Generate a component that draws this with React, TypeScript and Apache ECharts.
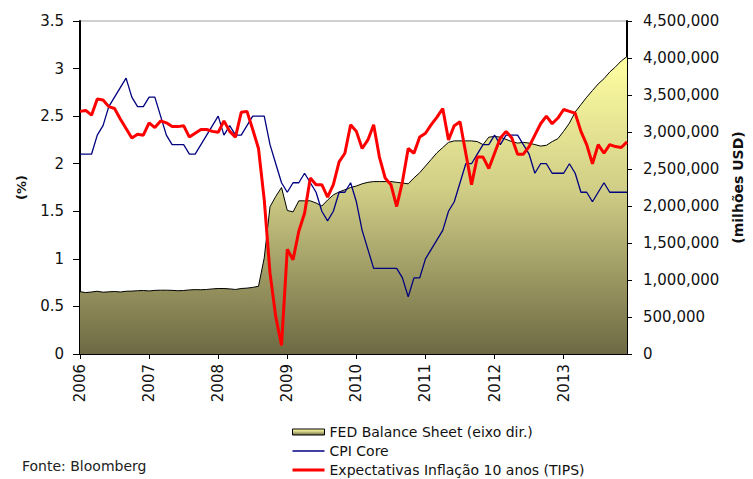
import React, { useEffect, useRef } from 'react';
import * as echarts from 'echarts';

const years = [2006, 2007, 2008, 2009, 2010, 2011, 2012, 2013];
const months = years.flatMap((y) =>
  ['01', '02', '03', '04', '05', '06', '07', '08', '09', '10', '11', '12'].map((m) => `${y}-${m}`)
);

const fedBalance = [
  842000, 830000, 838000, 848000, 835000, 840000, 845000, 838000, 848000, 850000, 855000, 858000,
  852000, 860000, 862000, 862000, 860000, 855000, 858000, 866000, 870000, 868000, 872000, 880000,
  885000, 885000, 880000, 872000, 885000, 890000, 900000, 915000, 1300000, 1990000, 2130000, 2250000,
  1940000, 1920000, 2070000, 2070000, 2070000, 2040000, 2000000, 2080000, 2150000, 2190000, 2220000, 2250000,
  2270000, 2300000, 2320000, 2330000, 2330000, 2330000, 2330000, 2320000, 2310000, 2300000, 2380000, 2450000,
  2540000, 2630000, 2720000, 2790000, 2860000, 2880000, 2880000, 2880000, 2880000, 2870000, 2830000, 2930000,
  2940000, 2930000, 2900000, 2870000, 2850000, 2860000, 2850000, 2830000, 2810000, 2820000, 2870000, 2910000,
  3010000, 3120000, 3270000, 3370000, 3470000, 3560000, 3650000, 3720000, 3810000, 3880000, 3960000, 4020000,
];

const cpiCore = [
  2.1, 2.1, 2.1, 2.3, 2.4, 2.6, 2.7, 2.8, 2.9, 2.7, 2.6, 2.6,
  2.7, 2.7, 2.5, 2.3, 2.2, 2.2, 2.2, 2.1, 2.1, 2.2, 2.3, 2.4,
  2.5, 2.3, 2.4, 2.3, 2.3, 2.4, 2.5, 2.5, 2.5, 2.2, 2.0, 1.8,
  1.7, 1.8, 1.8, 1.9, 1.8, 1.7, 1.5, 1.4, 1.5, 1.7, 1.7, 1.8,
  1.6, 1.3, 1.1, 0.9, 0.9, 0.9, 0.9, 0.9, 0.8, 0.6, 0.8, 0.8,
  1.0, 1.1, 1.2, 1.3, 1.5, 1.6, 1.8, 2.0, 2.0, 2.1, 2.2, 2.2,
  2.3, 2.2, 2.3, 2.3, 2.3, 2.2, 2.1, 1.9, 2.0, 2.0, 1.9, 1.9,
  1.9, 2.0, 1.9, 1.7, 1.7, 1.6, 1.7, 1.8, 1.7, 1.7, 1.7, 1.7,
];

const tipsBreakeven = [
  2.55, 2.56, 2.51, 2.68, 2.67, 2.6, 2.58, 2.47, 2.37, 2.27, 2.31, 2.3,
  2.43, 2.38, 2.45, 2.43, 2.39, 2.39, 2.4, 2.28, 2.32, 2.36, 2.36, 2.34,
  2.33, 2.45, 2.34, 2.28, 2.54, 2.55, 2.36, 2.16, 1.62, 0.85, 0.39, 0.09,
  1.1, 0.99, 1.29, 1.48, 1.85, 1.78, 1.78, 1.65, 1.78, 2.02, 2.11, 2.41,
  2.34, 2.16, 2.25, 2.41, 2.07, 1.85, 1.78, 1.55, 1.81, 2.16, 2.11, 2.28,
  2.32, 2.41, 2.49, 2.58, 2.25, 2.4, 2.44, 2.11, 1.78, 2.07, 2.07, 1.95,
  2.11, 2.27, 2.34, 2.27, 2.1, 2.1, 2.18, 2.3, 2.42, 2.5, 2.42, 2.48,
  2.57, 2.55, 2.53, 2.34, 2.2, 2.0, 2.2, 2.11, 2.2, 2.18, 2.17, 2.23,
];

const leftTicks = { min: 0, max: 3.5, interval: 0.5 };
const rightTicks = { min: 0, max: 4500000, interval: 500000 };

const seriesNames = [
  'FED Balance Sheet (eixo dir.)',
  'CPI Core',
  'Expectativas Inflação 10 anos (TIPS)',
];

const FONT = 'DejaVu Sans';

function areaGradient() {
  return new echarts.graphic.LinearGradient(0, 0, 0, 1, [
    { offset: 0, color: '#ffffa2' },
    { offset: 0.45, color: '#d0cd86' },
    { offset: 1, color: '#6d6943' },
  ]);
}

export default function App() {
  const ref = useRef<HTMLDivElement>(null);

  useEffect(() => {
    document.body.style.margin = '0';
    if (!ref.current) return;
    const chart = echarts.init(ref.current, undefined, { renderer: 'svg' });
    const yearTick = (i: number) => i % 12 === 0;
    chart.setOption({
      animation: false,
      textStyle: { fontFamily: FONT },
      grid: {
        left: 80,
        right: 120,
        top: 21,
        bottom: 125,
        show: true,
        borderColor: '#a0a0a0',
        borderWidth: 1,
      },
      legend: {
        orient: 'vertical',
        left: 292,
        top: 425,
        itemWidth: 32,
        itemHeight: 6,
        itemGap: 5,
        padding: 0,
        textStyle: { fontFamily: FONT, fontSize: 14, color: '#111' },
        data: [
          {
            name: seriesNames[0],
            icon: 'rect',
            itemStyle: { color: areaGradient(), borderColor: '#000', borderWidth: 1 },
          },
          {
            name: seriesNames[1],
            icon: 'path://M0,0H32V1.5H0Z',
            itemStyle: { color: '#000080', borderWidth: 0 },
          },
          {
            name: seriesNames[2],
            icon: 'path://M0,0H32V3H0Z',
            itemStyle: { color: '#ff0000', borderWidth: 0 },
          },
        ],
      },
      xAxis: {
        type: 'category',
        data: months,
        boundaryGap: false,
        axisLine: { lineStyle: { color: '#000', width: 2 } },
        axisTick: { interval: yearTick, length: 5, lineStyle: { color: '#000', width: 1 } },
        axisLabel: {
          interval: yearTick,
          rotate: 90,
          margin: 10,
          fontSize: 15,
          color: '#111',
          fontFamily: FONT,
          formatter: (v: string) => v.slice(0, 4),
        },
        splitLine: { show: false },
      },
      yAxis: [
        {
          type: 'value',
          ...leftTicks,
          position: 'left',
          name: '(%)',
          nameLocation: 'middle',
          nameGap: 52,
          nameTextStyle: { fontWeight: 'bold', fontSize: 13, color: '#111', fontFamily: FONT },
          axisLine: { show: true, lineStyle: { color: '#000', width: 2 } },
          axisTick: { show: true, length: 7, lineStyle: { color: '#000', width: 1 } },
          axisLabel: { margin: 16, fontSize: 15, color: '#111', fontFamily: FONT },
          splitLine: { show: false },
        },
        {
          type: 'value',
          ...rightTicks,
          position: 'right',
          name: '(milhões USD)',
          nameLocation: 'middle',
          nameRotate: 90,
          nameGap: 104,
          nameTextStyle: { fontWeight: 'bold', fontSize: 14, color: '#111', fontFamily: FONT },
          axisLine: { show: true, lineStyle: { color: '#000', width: 2 } },
          axisTick: { show: true, length: 5, lineStyle: { color: '#000', width: 1 } },
          axisLabel: {
            margin: 16,
            fontSize: 15,
            color: '#111',
            fontFamily: FONT,
            formatter: (v: number) => v.toLocaleString('en-US'),
          },
          splitLine: { show: false },
        },
      ],
      series: [
        {
          name: seriesNames[0],
          type: 'line',
          yAxisIndex: 1,
          data: fedBalance,
          symbol: 'none',
          lineStyle: { color: '#000', width: 1 },
          itemStyle: { color: '#c8c47f' },
          areaStyle: { color: areaGradient(), opacity: 1 },
          z: 1,
        },
        {
          name: seriesNames[1],
          type: 'line',
          yAxisIndex: 0,
          data: cpiCore,
          symbol: 'none',
          lineStyle: { color: '#000080', width: 1.3 },
          itemStyle: { color: '#000080' },
          z: 2,
        },
        {
          name: seriesNames[2],
          type: 'line',
          yAxisIndex: 0,
          data: tipsBreakeven,
          symbol: 'none',
          lineStyle: { color: '#ff0000', width: 3 },
          itemStyle: { color: '#ff0000' },
          z: 3,
        },
      ],
      graphic: [
        {
          type: 'text',
          left: 22,
          top: 459,
          style: { text: 'Fonte: Bloomberg', fontSize: 14, fill: '#222', fontFamily: FONT },
        },
      ],
    });
    return () => chart.dispose();
  }, []);

  return <div ref={ref} style={{ width: 753, height: 479, position: 'absolute', left: 0, top: 0 }} />;
}
